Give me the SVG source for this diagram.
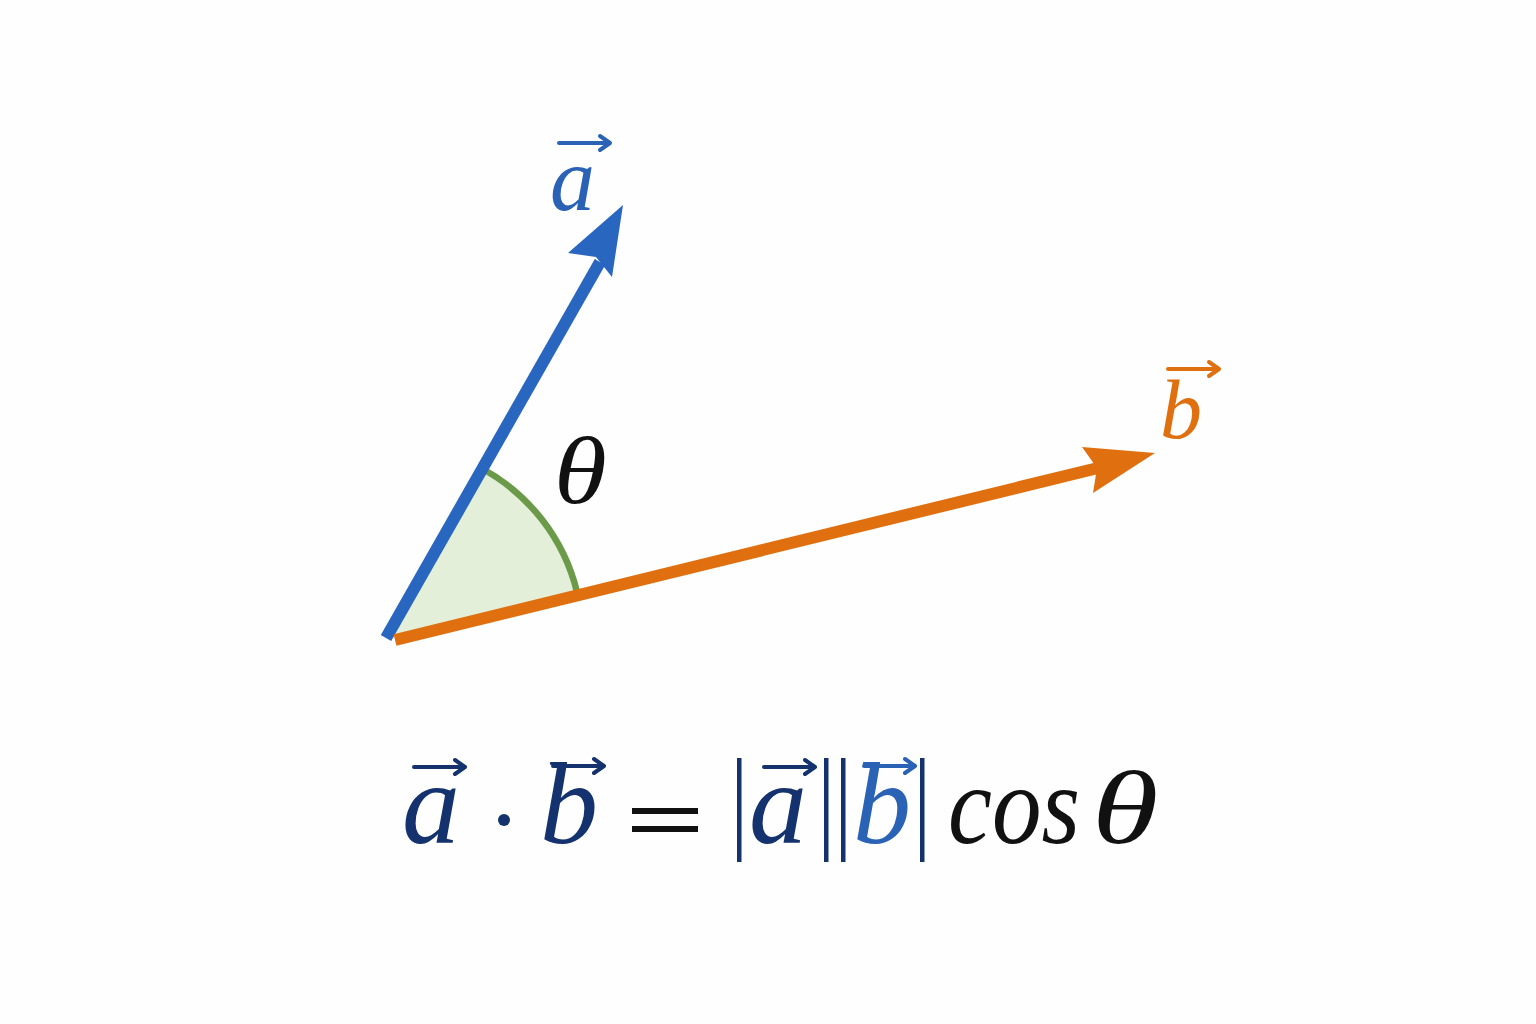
<svg xmlns="http://www.w3.org/2000/svg" width="1536" height="1024" viewBox="0 0 1536 1024">
<style>
.it{font-family:"Liberation Serif","DejaVu Serif",serif;font-style:italic}
.navy{fill:#14326d}
.ov{fill:none;stroke-width:4;stroke-linecap:round;stroke-linejoin:round}
</style>
<defs>
<g id="ovarrow"><path d="M0 0 H50 M41 -7 L51 0 L41 7" class="ov"/></g>
</defs>
<rect width="1536" height="1024" fill="#fefefe"/>
<g id="angle">
<path d="M390 638 L577 592 A193 193 0 0 0 481 468 Z" fill="#e3efd8"/>
<path d="M577 592 A193 193 0 0 0 481 468" fill="none" stroke="#6b9a48" stroke-width="6.5"/>
</g>
<g id="connectors">
<g id="vector-a">
<line x1="386" y1="638" x2="600" y2="262" stroke="#2866c0" stroke-width="12"/>
<polygon points="623,205 612,277 596,257 568,253" fill="#2866c0"/>
</g>
<g id="vector-b">
<line x1="395" y1="640" x2="1102" y2="467" stroke="#e0700f" stroke-width="12"/>
<polygon points="1155,453 1093,493 1097,468 1082,447" fill="#e0700f"/>
</g>
</g>
<g id="label-a">
<text class="it" x="550" y="210" font-size="90" fill="#2a62b5">a</text>
<use href="#ovarrow" transform="translate(559,143)" stroke="#2a62b5"/>
</g>
<g id="label-b">
<text class="it" x="1160" y="438" font-size="84" fill="#e0700f">b</text>
<use href="#ovarrow" transform="translate(1168,369)" stroke="#e0700f"/>
</g>
<g id="label-theta">
<text class="it" transform="translate(554,503) scale(1.12,1)" font-size="96" fill="#111">θ</text>
</g>
<g id="formula">
<text class="it navy" x="402" y="843" font-size="116">a</text>
<use href="#ovarrow" transform="translate(414,767)" stroke="#14326d"/>
<circle cx="504" cy="820" r="6" class="navy"/>
<text class="it navy" x="540" y="843" font-size="116">b</text>
<use href="#ovarrow" transform="translate(553,766)" stroke="#14326d"/>
<rect x="632" y="808" width="66" height="6" fill="#111"/>
<rect x="632" y="826" width="66" height="6" fill="#111"/>
<rect x="737" y="758" width="4.5" height="104" class="navy"/>
<text class="it navy" x="749" y="843" font-size="116">a</text>
<use href="#ovarrow" transform="translate(764,767)" stroke="#14326d"/>
<rect x="824" y="758" width="4.5" height="104" class="navy"/>
<rect x="841" y="758" width="4.5" height="104" class="navy"/>
<text class="it" x="853" y="843" font-size="116" fill="#2a62b5">b</text>
<use href="#ovarrow" transform="translate(864,766)" stroke="#2a62b5"/>
<rect x="920" y="758" width="4.5" height="104" class="navy"/>
<text class="it" x="948" y="843" font-size="112" fill="#111" textLength="132" lengthAdjust="spacingAndGlyphs">cos</text>
<text class="it" transform="translate(1092,843) scale(1.3,1)" font-size="104" fill="#111">θ</text>
</g>
</svg>
